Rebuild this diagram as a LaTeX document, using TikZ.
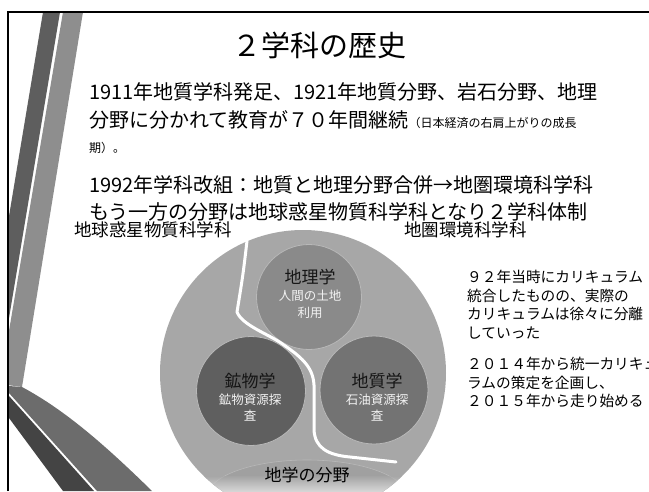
\documentclass[tikz,border=0pt]{standalone}
\usepackage{fontspec}
\setmainfont{Noto Sans CJK JP}
\definecolor{stripdark}{HTML}{5E5E5E}
\definecolor{striplight}{HTML}{8E8E8E}
\definecolor{stripmid}{HTML}{6C6C6C}
\definecolor{stripdeep}{HTML}{444444}
\definecolor{bigc}{HTML}{A7A7A7}
\definecolor{lensc}{HTML}{A0A0A0}
\definecolor{geoc}{HTML}{8A8A8A}
\definecolor{minc}{HTML}{5F5F5F}
\definecolor{gelc}{HTML}{737373}
\definecolor{circedge}{HTML}{B8B8B8}
\definecolor{subtxt}{HTML}{F2F2F2}
\definecolor{headtxt}{HTML}{151515}
\begin{document}
\begin{tikzpicture}[x=1pt,y=-1pt,
  body/.style={anchor=west, inner sep=0pt, font=\fontsize{20}{24}\selectfont},
  side/.style={anchor=west, inner sep=0pt, font=\fontsize{14.7}{17}\selectfont},
  lab/.style={anchor=west, inner sep=0pt, font=\fontsize{17.5}{21}\selectfont},
  ctitle/.style={inner sep=0pt, text=headtxt, font=\fontsize{17}{20}\selectfont},
  csub/.style={inner sep=0pt, text=subtxt, font=\fontsize{12.5}{15}\selectfont},
  smallc/.style={circle, inner sep=0pt, draw=circedge, line width=0.8pt},
  divider/.style={white, line width=3pt, line join=round, line cap=round}]
\useasboundingbox (0,0) rectangle (649,491);
\clip (0,0) rectangle (649,491);
\fill[white] (0,0) rectangle (649,491);

% left decorative strips
\begin{scope}
  \clip (9,12) rectangle (649,491);
  \fill[stripdark] (43,12) -- (60,12) -- (7,330) -- (-10,330) -- cycle;
  \fill[striplight] (63,12) -- (83,12) -- (22,387) -- (0,384) -- cycle;
  \fill[stripmid] (9,386) -- (22,387) .. controls (65,410) and (105,445) .. (152,491) -- (97,491) -- (9,393) -- cycle;
  \fill[stripdeep] (9,396) -- (94,491) -- (63,491) -- (9,418) -- cycle;
\end{scope}

% frame
\draw[black, line width=2pt] (8.3,491) -- (8.3,11.5) -- (649,11.5);

% title and body text
\node[inner sep=0pt, font=\fontsize{29}{34}\selectfont] (title) at (319,45) {２学科の歴史};
\node[body] (l1) at (89,92) {1911年地質学科発足、1921年地質分野、岩石分野、地理};
\node[body] (l2) at (89,120) {分野に分かれて教育が７０年間継続{\fontsize{12}{14}\selectfont （日本経済の右肩上がりの成長}};
\node[anchor=west, inner sep=0pt, font=\fontsize{12}{14}\selectfont] (l3) at (89,148) {期）。};
\node[body] (l4) at (89,185) {1992年学科改組：地質と地理分野合併→地圏環境科学科};
\node[body] (l5) at (89,212) {もう一方の分野は地球惑星物質科学科となり２学科体制};

% big circle diagram
\node[circle, inner sep=0pt, minimum size=286pt, fill=bigc] (big) at (303,373) {};
\begin{scope}
  \clip (303,373) circle [radius=143pt];
  \fill[lensc, draw=circedge, line width=0.6pt] (307,497) ellipse [x radius=100pt, y radius=37pt];
  \shade[top color=bigc, bottom color=white, opacity=0.6] (150,476) rectangle (470,492);
\end{scope}

\node[lab] (lleft) at (74,229.5) {地球惑星物質科学科};
\node[lab] (lright) at (404,229.5) {地圏環境科学科};

\node[smallc, fill=geoc, minimum size=105pt] (geo) at (309,297) {};
\node[smallc, fill=minc, minimum size=109pt] (mine) at (251,391) {};
\node[smallc, fill=gelc, minimum size=108pt] (geol) at (374,390) {};

\coordinate (divtop) at (247,241);
\coordinate (divend) at (396,462);
\draw[divider] (divtop) .. controls (243,275) .. (237,312) .. controls (242,325) and (268,334) .. (281,343) .. controls (300,356) and (313,366) .. (314,385) -- (314,430) .. controls (315,448) and (328,455) .. (350,457) -- (divend);

\node[ctitle] (geot) at (310,277) {地理学};
\node[csub] (geos1) at (310,296) {人間の土地};
\node[csub] (geos2) at (310,313) {利用};

\node[ctitle] (minet) at (250,381) {鉱物学};
\node[csub] (mines1) at (250,400) {鉱物資源探};
\node[csub] (mines2) at (250,416) {査};

\node[ctitle] (geolt) at (377,381) {地質学};
\node[csub] (geols1) at (377,400) {石油資源探};
\node[csub] (geols2) at (377,416) {査};

\node[inner sep=0pt, font=\fontsize{17}{20}\selectfont] (field) at (307,475) {地学の分野};

% right text
\node[side] (r1) at (467,277) {９２年当時にカリキュラム};
\node[side] (r2) at (467,296) {統合したものの、実際の};
\node[side] (r3) at (467,314) {カリキュラムは徐々に分離};
\node[side] (r4) at (467,333) {していった};
\node[side] (r5) at (467,364) {２０１４年から統一カリキュ};
\node[side] (r6) at (467,383) {ラムの策定を企画し、};
\node[side] (r7) at (467,401) {２０１５年から走り始める};
\end{tikzpicture}
\end{document}
